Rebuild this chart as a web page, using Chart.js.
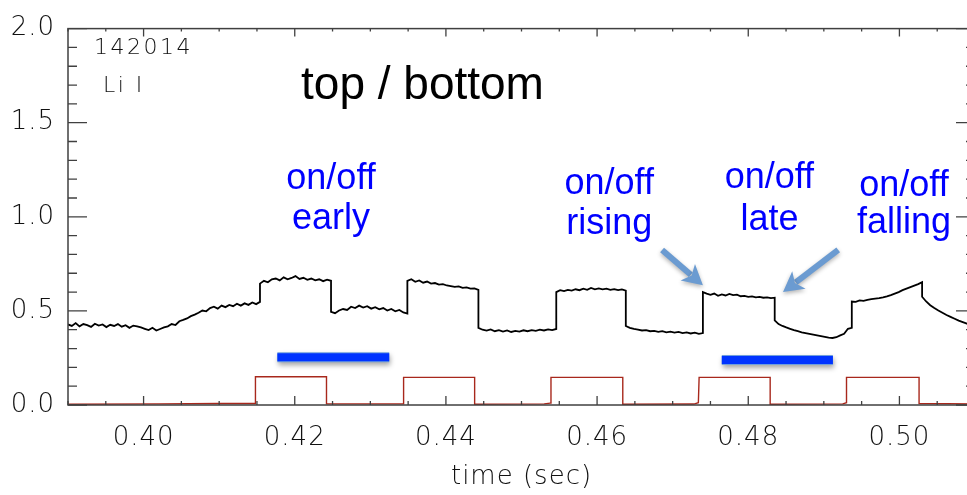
<!DOCTYPE html>
<html lang="en">

<head>
    <meta charset="UTF-8">
    <title>Li I top / bottom</title>
    <script src="https://cdn.jsdelivr.net/npm/chart.js"></script>
    <style>
        body { margin: 0; background: #fff; overflow: hidden; }
        #caixa { width: 976px; height: 495px; }
    </style>
</head>

<body>
    <div id="caixa">
        <canvas id="grafico" width="976" height="495"></canvas>
    </div>
</body>

</html>

<script>
    // axis ticks
    var xMajorTicks = [0.40, 0.42, 0.44, 0.46, 0.48, 0.50];
    var yMajorTicks = [0.0, 0.5, 1.0, 1.5, 2.0];

    // Li I signal: one array per step between the switching edges
    var edgeTimes = [0.3900, 0.4154, 0.4248, 0.4349, 0.4443, 0.4546, 0.4638, 0.4740, 0.4835, 0.4937, 0.5030, 0.5100];
    var seg0 = [0.428, 0.42, 0.435, 0.418, 0.43, 0.424, 0.415, 0.432, 0.422, 0.428, 0.414, 0.426, 0.42, 0.43, 0.416, 0.424, 0.41, 0.422, 0.418, 0.412,
        0.405, 0.398, 0.41, 0.396, 0.404, 0.412,
        0.418, 0.43, 0.425, 0.445, 0.452, 0.46, 0.472, 0.48, 0.49, 0.502, 0.498, 0.515, 0.522, 0.512, 0.528, 0.52, 0.532, 0.525, 0.538, 0.528, 0.54, 0.532, 0.545, 0.536, 0.548];
    var seg1 = [0.645, 0.66, 0.652, 0.668, 0.672, 0.662, 0.678, 0.668, 0.675, 0.685, 0.67, 0.676, 0.665, 0.672, 0.662, 0.668, 0.658, 0.666, 0.66];
    var seg2 = [0.495, 0.488, 0.502, 0.51, 0.505, 0.522, 0.515, 0.528, 0.518, 0.525, 0.512, 0.52, 0.508, 0.515, 0.502, 0.51, 0.498, 0.505, 0.492, 0.486];
    var seg3 = [0.66, 0.668, 0.655, 0.662, 0.65, 0.656, 0.645, 0.648, 0.64, 0.642, 0.635, 0.632, 0.628, 0.63, 0.622, 0.625, 0.618, 0.62, 0.612];
    var seg4 = [0.41, 0.4, 0.395, 0.402, 0.392, 0.398, 0.39, 0.396, 0.388, 0.394, 0.39, 0.397, 0.392, 0.398, 0.394, 0.4, 0.396, 0.402, 0.398, 0.404];
    var seg5 = [0.6, 0.61, 0.605, 0.612, 0.608, 0.615, 0.61, 0.618, 0.612, 0.622, 0.615, 0.62, 0.614, 0.618, 0.612, 0.616, 0.61, 0.614, 0.608];
    var seg6 = [0.42, 0.41, 0.404, 0.4, 0.396, 0.398, 0.392, 0.394, 0.389, 0.392, 0.386, 0.39, 0.385, 0.388, 0.382, 0.386, 0.38, 0.384, 0.378, 0.382];
    var seg7 = [0.6, 0.592, 0.585, 0.592, 0.58, 0.588, 0.582, 0.59, 0.584, 0.586, 0.578, 0.58, 0.575, 0.577, 0.572, 0.574, 0.57, 0.572, 0.568, 0.57];
    var seg8 = [0.45, 0.43, 0.42, 0.412, 0.405, 0.398, 0.392, 0.386, 0.382, 0.378, 0.374, 0.37, 0.366, 0.362, 0.358, 0.356, 0.36, 0.37, 0.378, 0.405, 0.41];
    var seg9 = [0.55, 0.548, 0.556, 0.553, 0.558, 0.562, 0.565, 0.568, 0.572, 0.577, 0.584, 0.592, 0.6, 0.61, 0.618, 0.626, 0.634, 0.642, 0.652];
    var seg10 = [0.575, 0.55, 0.53, 0.515, 0.502, 0.49, 0.478, 0.468, 0.458, 0.448, 0.44, 0.432, 0.425, 0.418];
    var liSegments = [seg0, seg1, seg2, seg3, seg4, seg5, seg6, seg7, seg8, seg9, seg10];

    // on/off reference signal (red)
    var refTimes = [0.3900, 0.4020, 0.4100, 0.4148, 0.4148, 0.4242, 0.4242, 0.4344, 0.4344, 0.4438, 0.4438, 0.4530, 0.4538, 0.4539, 0.4634, 0.4634, 0.4728, 0.4734, 0.4735, 0.4829, 0.4829, 0.4925, 0.4930, 0.4930, 0.5026, 0.5026, 0.5100];
    var refValues = [0.004, 0.006, 0.008, 0.008, 0.150, 0.150, 0.006, 0.006, 0.147, 0.147, 0.004, 0.006, 0.010, 0.147, 0.147, 0.004, 0.005, 0.012, 0.147, 0.147, 0.004, 0.006, 0.012, 0.147, 0.147, 0.008, 0.006];

    // blue bars marking the windows
    var barEarlyX = [0.4177, 0.4325];
    var barEarlyY = [0.254, 0.254];
    var barLateX = [0.4765, 0.4912];
    var barLateY = [0.239, 0.239];

    // notes (x in sec, baselines in signal units)
    var noteText = [['on/off', 'early'], ['on/off', 'rising'], ['on/off', 'late'], ['on/off', 'falling']];
    var noteX = [0.4248, 0.4616, 0.4828, 0.5006];
    var noteY = [[1.150, 0.936], [1.120, 0.906], [1.155, 0.932], [1.109, 0.916]];

    // arrows [tail x, tail y, tip x, tip y]
    var arrows = [[0.4686, 0.824, 0.4740, 0.636], [0.4919, 0.824, 0.4846, 0.600]];

    var liPontos = [];
    for (var k = 0; k < liSegments.length; k++) {
        var seg = liSegments[k];
        var passo = (edgeTimes[k + 1] - edgeTimes[k]) / (seg.length - 1);
        for (var j = 0; j < seg.length; j++) {
            liPontos.push({ x: edgeTimes[k] + j * passo, y: seg[j] });
        }
    }
    var refPontos = refTimes.map(function (t, i) { return { x: t, y: refValues[i] }; });
    function pares(xs, ys) { return xs.map(function (v, i) { return { x: v, y: ys[i] }; }); }

    var fonteEixo = { family: '"DejaVu Sans", sans-serif', size: 26, weight: '200' };

    var molduraPlugin = {
        id: 'moldura',
        beforeDraw(chart) {
            chart.ctx.letterSpacing = '1px';
        },
        beforeDatasetDraw(chart, args) {
            if (args.meta._dataset.sombra) {
                var ctx = chart.ctx;
                ctx.save();
                ctx.shadowColor = 'rgba(0,0,0,0.35)';
                ctx.shadowBlur = 5;
                ctx.shadowOffsetX = 1;
                ctx.shadowOffsetY = 3;
            }
        },
        afterDatasetDraw(chart, args) {
            if (args.meta._dataset.sombra) chart.ctx.restore();
        },
        afterDraw(chart) {
            var ctx = chart.ctx;
            var a = chart.chartArea;
            var sx = chart.scales.x, sy = chart.scales.y;
            ctx.save();
            ctx.letterSpacing = '0px';

            // frame with inward ticks
            ctx.strokeStyle = '#404040';
            ctx.lineWidth = 1.5;
            ctx.strokeRect(a.left, a.top, a.right - a.left, a.bottom - a.top);
            ctx.lineWidth = 1.3;
            ctx.beginPath();
            for (var i = 0; i <= 24; i++) {
                var vx = 0.39 + i * 0.005;
                var px = sx.getPixelForValue(vx);
                var maior = xMajorTicks.some(function (m) { return Math.abs(m - vx) < 1e-6; });
                var lb = maior ? 9 : 4, lt = maior ? 8 : 3;
                ctx.moveTo(px, a.bottom); ctx.lineTo(px, a.bottom - lb);
                ctx.moveTo(px, a.top); ctx.lineTo(px, a.top + lt);
            }
            for (var i = 0; i <= 20; i++) {
                var vy = i * 0.1;
                var py = sy.getPixelForValue(vy);
                var maiorY = i % 5 === 0;
                var ll = maiorY ? 19 : 9;
                ctx.moveTo(a.left, py); ctx.lineTo(a.left + ll, py);
                ctx.moveTo(a.right, py); ctx.lineTo(a.right - ll, py);
            }
            ctx.stroke();

            // run labels
            ctx.fillStyle = '#111';
            ctx.font = '200 22px "DejaVu Sans", sans-serif';
            ctx.letterSpacing = '2.5px';
            ctx.textAlign = 'left';
            ctx.textBaseline = 'alphabetic';
            ctx.fillText('142014', sx.getPixelForValue(0.39344), sy.getPixelForValue(1.8626));
            ctx.fillText('Li I', sx.getPixelForValue(0.39463), sy.getPixelForValue(1.664));

            ctx.letterSpacing = '0px';
            ctx.fillStyle = '#000';
            ctx.font = '46px "Liberation Sans", Arial, sans-serif';
            ctx.fillText('top / bottom', sx.getPixelForValue(0.42083), sy.getPixelForValue(1.6285));

            // blue notes
            ctx.fillStyle = '#0000ff';
            ctx.font = '36px "Liberation Sans", Arial, sans-serif';
            ctx.textAlign = 'center';
            for (var n = 0; n < noteText.length; n++) {
                for (var l = 0; l < 2; l++) {
                    ctx.fillText(noteText[n][l], sx.getPixelForValue(noteX[n]), sy.getPixelForValue(noteY[n][l]));
                }
            }

            // arrows
            ctx.fillStyle = '#6b9bd1';
            ctx.strokeStyle = '#6b9bd1';
            ctx.shadowColor = 'rgba(0,0,0,0.3)';
            ctx.shadowBlur = 4;
            ctx.shadowOffsetY = 2;
            arrows.forEach(function (s) {
                var x1 = sx.getPixelForValue(s[0]), y1 = sy.getPixelForValue(s[1]);
                var x2 = sx.getPixelForValue(s[2]), y2 = sy.getPixelForValue(s[3]);
                var ang = Math.atan2(y2 - y1, x2 - x1);
                var cab = 20, meia = 11;
                var bx = x2 - cab * Math.cos(ang), by = y2 - cab * Math.sin(ang);
                ctx.lineWidth = 6;
                ctx.beginPath();
                ctx.moveTo(x1, y1);
                ctx.lineTo(bx + 4 * Math.cos(ang), by + 4 * Math.sin(ang));
                ctx.stroke();
                ctx.beginPath();
                ctx.moveTo(x2, y2);
                ctx.lineTo(bx - meia * Math.sin(ang), by + meia * Math.cos(ang));
                ctx.lineTo(bx + 5 * Math.cos(ang), by + 5 * Math.sin(ang));
                ctx.lineTo(bx + meia * Math.sin(ang), by - meia * Math.cos(ang));
                ctx.closePath();
                ctx.fill();
            });
            ctx.restore();
        }
    };

    var ctx1 = document.getElementById('grafico');

    new Chart(ctx1, {
        type: 'line',
        data: {
            datasets: [{
                label: 'Li I',
                data: liPontos,
                borderColor: '#000',
                borderWidth: 1.8,
                pointRadius: 0,
                tension: 0,
                order: 1
            }, {
                label: 'on/off',
                data: refPontos,
                borderColor: '#a8281c',
                borderWidth: 1.4,
                pointRadius: 0,
                tension: 0,
                order: 2
            }, {
                data: pares(barEarlyX, barEarlyY),
                borderColor: '#0033ff',
                borderWidth: 8,
                borderCapStyle: 'butt',
                pointRadius: 0,
                order: 3
            }, {
                data: pares(barLateX, barLateY),
                borderColor: '#0033ff',
                borderWidth: 8,
                borderCapStyle: 'butt',
                pointRadius: 0,
                order: 3
            }, {
                data: pares(barEarlyX, barEarlyY),
                borderColor: '#6f9fdc',
                borderWidth: 10,
                borderCapStyle: 'butt',
                pointRadius: 0,
                sombra: true,
                order: 4
            }, {
                data: pares(barLateX, barLateY),
                borderColor: '#6f9fdc',
                borderWidth: 10,
                borderCapStyle: 'butt',
                pointRadius: 0,
                sombra: true,
                order: 4
            }]
        },
        options: {
            responsive: false,
            animation: false,
            devicePixelRatio: 1,
            layout: { padding: { top: 12, right: 1, left: 0, bottom: 0 } },
            plugins: {
                legend: { display: false },
                tooltip: { enabled: false }
            },
            scales: {
                x: {
                    type: 'linear',
                    min: 0.39,
                    max: 0.51,
                    grid: { display: false, drawTicks: false },
                    border: { display: false },
                    afterBuildTicks: function (s) { s.ticks = xMajorTicks.map(function (v) { return { value: v }; }); },
                    afterFit: function (s) { s.height = 90; },
                    ticks: {
                        autoSkip: false,
                        maxRotation: 0,
                        padding: 18,
                        color: '#111',
                        font: fonteEixo,
                        callback: function (v) { return Number(v).toFixed(2); }
                    },
                    title: {
                        display: true,
                        text: 'time (sec)',
                        color: '#111',
                        font: fonteEixo,
                        padding: { top: 0, bottom: 2 }
                    }
                },
                y: {
                    min: 0,
                    max: 2,
                    grid: { display: false, drawTicks: false },
                    border: { display: false },
                    afterBuildTicks: function (s) { s.ticks = yMajorTicks.map(function (v) { return { value: v }; }); },
                    afterFit: function (s) { s.width = 68; },
                    ticks: {
                        padding: 13,
                        color: '#111',
                        font: fonteEixo,
                        callback: function (v) { return Number(v).toFixed(1); }
                    }
                }
            }
        },
        plugins: [molduraPlugin]
    });

</script>
